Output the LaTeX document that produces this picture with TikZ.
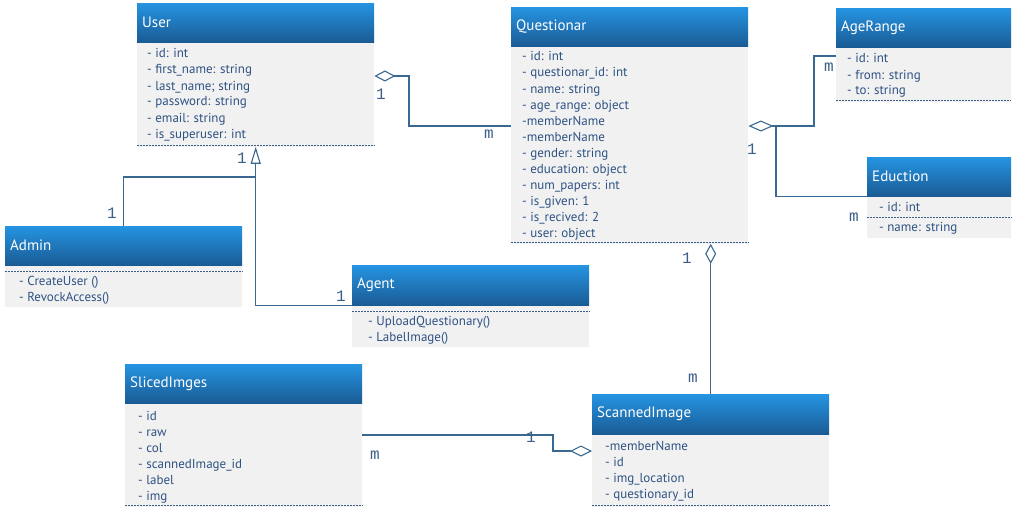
\documentclass[tikz,border=0pt]{standalone}
\usepackage{fontspec}
\setmainfont{PT Sans}
\newfontfamily\multfont{Liberation Mono}
\usetikzlibrary{arrows.meta,calc}

\definecolor{hdtop}{HTML}{2594E2}
\definecolor{hdbot}{HTML}{1A5B94}
\definecolor{bodybg}{HTML}{F1F1F1}
\definecolor{ink}{HTML}{2E5283}
\definecolor{sepc}{HTML}{3A5E8A}
\definecolor{wirec}{HTML}{3A6890}
\definecolor{multc}{HTML}{3B5E86}

\tikzset{
  hdr/.style={rectangle, anchor=north west, top color=hdtop, bottom color=hdbot,
    draw=none, text=white, font=\fontsize{15}{18}\selectfont,
    inner xsep=5pt, inner ysep=0pt, align=left},
  bodybox/.style={rectangle, anchor=north west, fill=bodybg, draw=none, inner sep=0pt},
  attr/.style={anchor=base west, inner sep=0pt, text=ink, font=\fontsize{13}{15}\selectfont},
  sep/.style={draw=sepc, line width=0.9pt, dash pattern=on 2pt off 1pt},
  wire/.style={draw=wirec, line width=1.3pt},
  mult/.style={text=multc, font=\multfont\fontsize{16}{18}\selectfont, inner sep=0pt},
  agg/.style={-{Diamond[open, length=#1, width=11pt, line width=1.1pt]}},
  inherit/.style={-{Triangle[open, length=17pt, width=10pt, line width=1.1pt]}}
}

% class box: id, x, y, width, header height, body height, title
\newcommand\umlclass[7]{%
  \node[hdr, minimum width=#4pt, minimum height=#5pt,
        text width=\the\dimexpr #4pt-10pt\relax] (#1) at (#2,#3) {#7};
  \node[bodybox, minimum width=#4pt, minimum height=#6pt] (#1b) at (#1.south west) {};
}
% member lines: id, x, first baseline, list
\newcommand\members[4]{%
  \foreach \m [count=\k] in {#4}
    \node[attr] (#1-\k) at (#2, {#3+16*(\k-1)}) {\m};
}

\begin{document}
\begin{tikzpicture}[x=1pt, y=-1pt]
\fill[white] (0,0) rectangle (1012,511);
\useasboundingbox (0,0) rectangle (1012,511);

% ---- classes
\umlclass{user}{137}{3}{237}{39}{104}{User}
\members{user}{147}{58}{- id: int, - first\_name: string, - last\_name; string, - password: string, - email: string, - is\_superuser: int}
\draw[sep] ($(userb.south west)+(0,-1)$) -- ($(userb.south east)+(0,-1)$);

\umlclass{quest}{511}{7}{237}{39}{197}{Questionar}
\members{quest}{522}{61}{- id: int, - questionar\_id: int, - name: string, - age\_range: object, -memberName, -memberName, - gender: string, - education: object, - num\_papers: int, - is\_given: 1, - is\_recived: 2, - user: object}
\draw[sep] ($(questb.south west)+(0,-1)$) -- ($(questb.south east)+(0,-1)$);

\umlclass{age}{836}{8}{175}{39}{54}{AgeRange}
\members{age}{847}{63}{- id: int, - from: string, - to: string}
\draw[sep] ($(ageb.south west)+(0,-1)$) -- ($(ageb.south east)+(0,-1)$);

\umlclass{edu}{867}{157}{144}{39}{41}{Eduction}
\node[attr] (edu-1) at (879,211) {- id: int};
\node[attr] (edu-2) at (879,231) {- name: string};
\draw[sep] ($(edub.north west)+(0,21)$) -- ($(edub.north east)+(0,21)$);

\umlclass{admin}{5}{226}{237}{39}{41}{Admin}
\members{admin}{19}{285}{- CreateUser (), - RevockAccess()}
\draw[sep] ($(adminb.north west)+(0,6)$) -- ($(adminb.north east)+(0,6)$);

\umlclass{agent}{352}{265}{237}{40}{41}{Agent}
\members{agent}{368}{325}{- UploadQuestionary(), - LabelImage()}
\draw[sep] ($(agentb.north west)+(0,6)$) -- ($(agentb.north east)+(0,6)$);

\umlclass{sliced}{125}{364}{237}{39}{103}{SlicedImges}
\members{sliced}{138}{420}{- id, - raw, - col, - scannedImage\_id, - label, - img}
\draw[sep] ($(slicedb.south west)+(0,-1)$) -- ($(slicedb.south east)+(0,-1)$);

\umlclass{scan}{592}{394}{237}{40}{72}{ScannedImage}
\members{scan}{605}{450}{-memberName, - id, - img\_location, - questionary\_id}
\draw[sep] ($(scanb.south west)+(0,-1)$) -- ($(scanb.south east)+(0,-1)$);

% ---- relations
\draw[wire, agg=21pt] (questb.west |- 0,126) -| (409,76) -- (userb.east |- 0,76);
\draw[wire, inherit] (agent.south west) -| (userb.south);
\draw[wire] (admin.north) |- (userb.south |- 0,177);
\draw[wire, agg=25pt] (ageb.west |- 0,56) -| (814,126) -- (questb.east |- 0,126);
\draw[wire] (edu.south west) -| (776,126);
\draw[wire, agg=20pt] (scan.north) -- (scan.north |- questb.south);
\draw[wire, agg=22pt] (slicedb.east |- 0,435) -| (553,451) -- (scanb.west |- 0,451);

% ---- multiplicities
\node[mult] (m-uq1) at (381,94) {1};
\node[mult] (m-uqm) at (489,134) {m};
\node[mult] (m-gen) at (242,158) {1};
\node[mult] (m-adm) at (112,213) {1};
\node[mult] (m-agt) at (341,296) {1};
\node[mult] (m-age) at (829,67) {m};
\node[mult] (m-edu) at (854,217) {m};
\node[mult] (m-q1) at (752,149) {1};
\node[mult] (m-qs1) at (687,258) {1};
\node[mult] (m-qsm) at (693,378) {m};
\node[mult] (m-ss1) at (531,437) {1};
\node[mult] (m-ssm) at (375,455) {m};
\end{tikzpicture}
\end{document}
